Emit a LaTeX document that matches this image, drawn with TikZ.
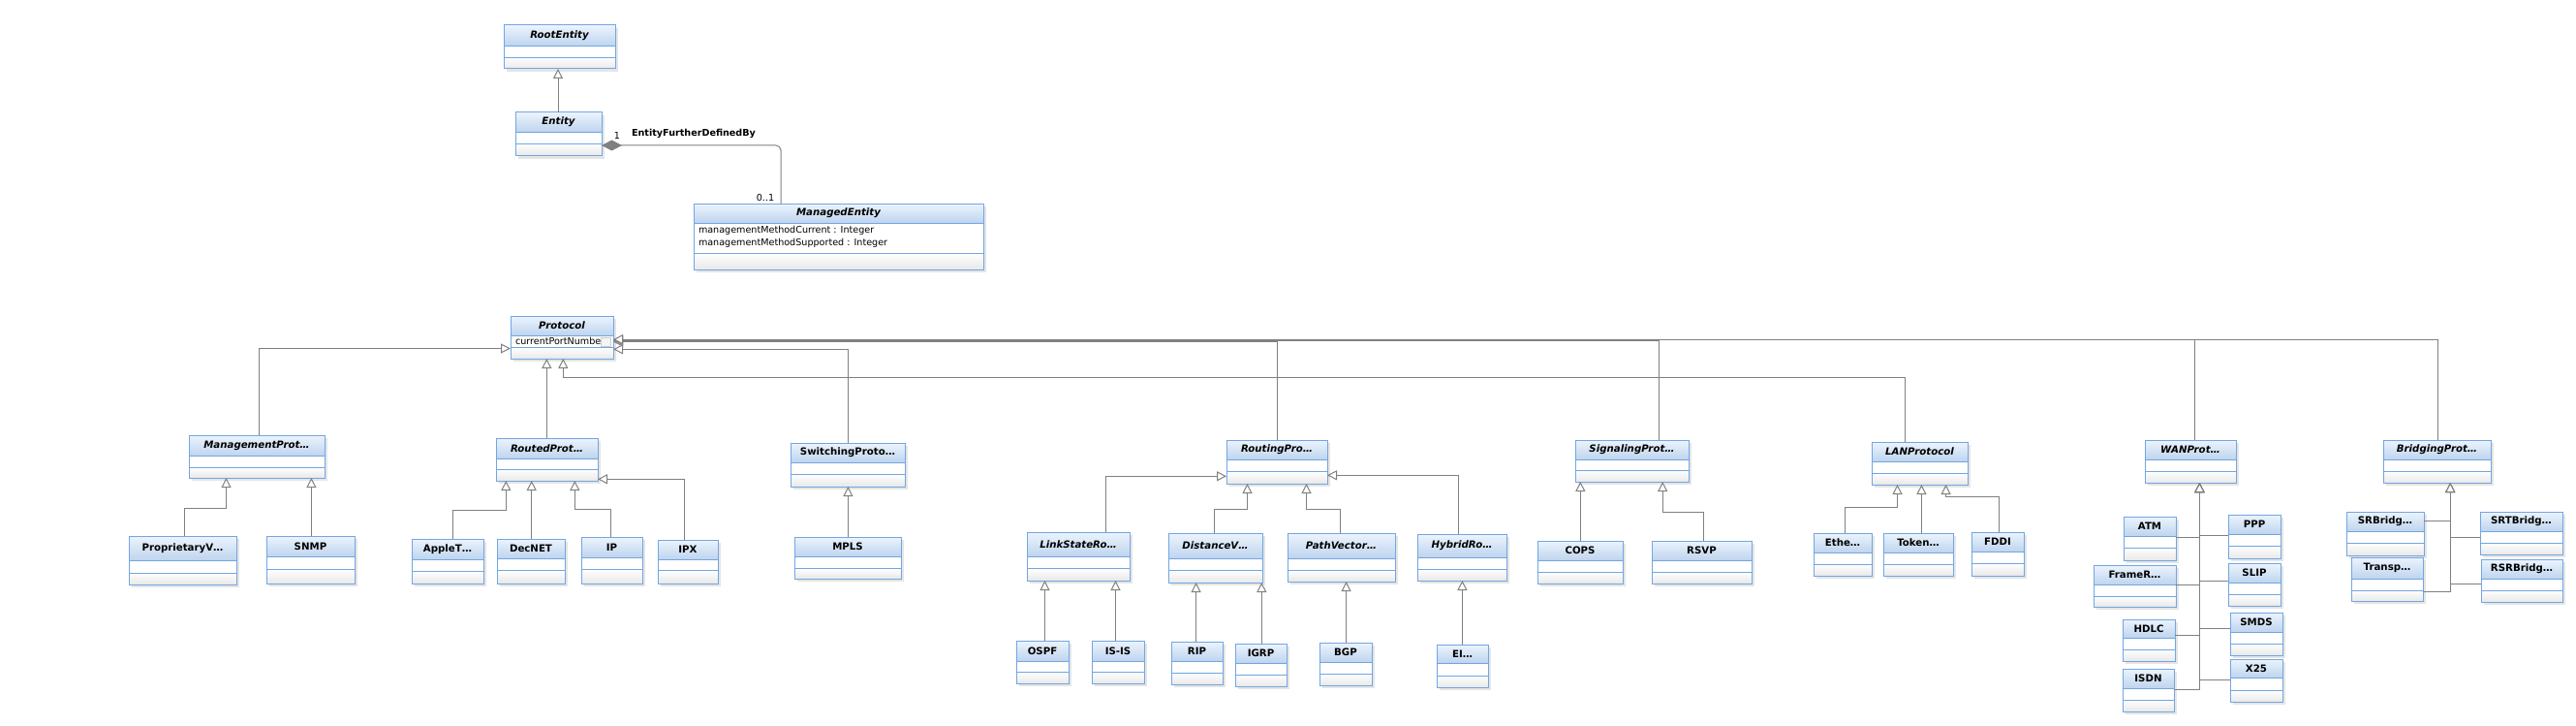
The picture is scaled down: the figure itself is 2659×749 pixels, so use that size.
\documentclass[tikz,border=0pt]{standalone}
\usepackage{fontspec}
\setmainfont{DejaVu Sans}
\usetikzlibrary{arrows.meta}

\definecolor{umlblue}{RGB}{114,166,226}
\definecolor{umlheadtop}{RGB}{236,244,253}
\definecolor{umlheadbot}{RGB}{190,212,238}
\definecolor{umlgray}{RGB}{128,128,128}

% name, x1, y1, x2, y2, header bottom, operations top, title
\newcommand{\umlclass}[8]{%
  \fill[umlshadow] (#2+3,#3+3) rectangle (#4+3,#5+3);
  \fill[white] (#2,#3) rectangle (#4,#5);
  \shade[umlhead] (#2,#3) rectangle (#4,#6);
  \shade[umlops] (#2,#7) rectangle (#4,#5);
  \draw[umlsep] (#2,#6) -- (#4,#6) (#2,#7) -- (#4,#7);
  \node[umlbox,minimum width={(#4-#2)*1pt},minimum height={(#5-#3)*1pt}] (#1) at ({(#2+#4)/2},{(#3+#5)/2}) {};
  \node[umltitle] (#1-title) at ({(#2+#4)/2},{(#3+#6)/2}) {#8};
}

\begin{document}
\begin{tikzpicture}[x=1pt,y=-1pt,
  every node/.style={inner sep=0pt,outer sep=0pt},
  umlbox/.style={draw=umlblue,line width=1pt,rectangle},
  umlsep/.style={umlblue,line width=0.9pt},
  umlhead/.style={top color=umlheadtop,bottom color=umlheadbot},
  umlops/.style={top color=white,bottom color=black!9},
  umlshadow/.style={black!10},
  umltitle/.style={font=\fontsize{10.2}{12}\selectfont\bfseries},
  umlattr/.style={font=\fontsize{9.6}{11}\selectfont,anchor=west},
  umllabel/.style={font=\fontsize{9.6}{11}\selectfont},
  gen/.style={umlgray,line width=1pt,-{Triangle[length=10pt,width=10pt,fill=white]}},
  comp/.style={umlgray,line width=1pt,rounded corners=5pt,-{Diamond[length=21pt,width=11pt,fill=umlgray]}}]
\fill[white] (0,0) rectangle (2659,749);
\useasboundingbox (0,0) rectangle (2659,749);

\umlclass{root}{520}{26}{635}{71}{47}{59}{\itshape RootEntity}
\umlclass{entity}{532}{116}{621}{161}{136}{148}{\itshape Entity}
\umlclass{managed}{716}{210}{1015}{278}{230}{261}{\itshape ManagedEntity}
\node[umlattr] (managed-a1) at (721,238) {managementMethodCurrent : Integer};
\node[umlattr] (managed-a2) at (721,251) {managementMethodSupported : Integer};

\umlclass{protocol}{527}{326}{633}{370}{346}{358}{\itshape Protocol}
\begin{scope}
\clip (528,347) rectangle (619,358);
\node[umlattr] (protocol-a) at (532,352) {currentPortNumber};
\end{scope}
\draw[black!20,fill=black!4] (620,348) rectangle (630,357);

\umlclass{mgmt}{195}{449}{335}{493}{470}{482}{\itshape ManagementProt…}
\umlclass{routed}{512}{452}{617}{496}{473}{484}{\itshape RoutedProt…}
\umlclass{switching}{816}{457}{934}{502}{477}{489}{SwitchingProto…}
\umlclass{routing}{1266}{454}{1370}{499}{474}{486}{\itshape RoutingPro…}
\umlclass{signaling}{1626}{454}{1743}{497}{474}{485}{\itshape SignalingProt…}
\umlclass{lan}{1932}{456}{2031}{500}{476}{488}{\itshape LANProtocol}
\umlclass{wan}{2214}{454}{2308}{498}{474}{486}{\itshape WANProt…}
\umlclass{bridging}{2460}{454}{2571}{498}{474}{486}{\itshape BridgingProt…}

\umlclass{propv}{133}{553}{244}{603}{578}{591}{ProprietaryV…}
\umlclass{snmp}{275}{553}{366}{602}{574}{587}{SNMP}
\umlclass{applet}{425}{556}{499}{602}{577}{589}{AppleT…}
\umlclass{decnet}{513}{556}{583}{602}{576}{588}{DecNET}
\umlclass{ip}{600}{554}{663}{602}{575}{587}{IP}
\umlclass{ipx}{679}{557}{741}{602}{577}{588}{IPX}
\umlclass{mpls}{820}{554}{930}{597}{574}{586}{MPLS}
\umlclass{linkstate}{1060}{549}{1166}{599}{574}{586}{\itshape LinkStateRo…}
\umlclass{distv}{1206}{550}{1303}{601}{576}{588}{\itshape DistanceV…}
\umlclass{pathv}{1329}{550}{1440}{600}{576}{588}{\itshape PathVector…}
\umlclass{hybrid}{1463}{551}{1555}{599}{575}{587}{\itshape HybridRo…}
\umlclass{cops}{1587}{558}{1675}{602}{578}{590}{COPS}
\umlclass{rsvp}{1705}{558}{1808}{602}{578}{590}{RSVP}
\umlclass{ethe}{1872}{550}{1932}{594}{570}{582}{Ethe…}
\umlclass{token}{1944}{550}{2016}{594}{570}{582}{Token…}
\umlclass{fddi}{2035}{549}{2089}{594}{569}{581}{FDDI}

\umlclass{ospf}{1049}{661}{1103}{705}{682}{693}{OSPF}
\umlclass{isis}{1127}{661}{1181}{705}{682}{693}{IS-IS}
\umlclass{rip}{1209}{662}{1262}{706}{682}{694}{RIP}
\umlclass{igrp}{1275}{664}{1328}{708}{684}{696}{IGRP}
\umlclass{bgp}{1362}{663}{1416}{707}{683}{695}{BGP}
\umlclass{eigrp}{1483}{665}{1536}{709}{684}{697}{EI…}

\umlclass{atm}{2192}{533}{2246}{578}{553}{565}{ATM}
\umlclass{ppp}{2300}{531}{2354}{576}{551}{563}{PPP}
\umlclass{framer}{2161}{583}{2246}{626}{603}{615}{FrameR…}
\umlclass{slip}{2300}{581}{2354}{625}{601}{613}{SLIP}
\umlclass{hdlc}{2191}{639}{2245}{682}{658}{670}{HDLC}
\umlclass{smds}{2302}{632}{2356}{676}{652}{664}{SMDS}
\umlclass{isdn}{2191}{690}{2244}{734}{710}{722}{ISDN}
\umlclass{x25}{2302}{680}{2356}{724}{699}{712}{X25}

\umlclass{srbridg}{2422}{528}{2502}{573}{548}{560}{SRBridg…}
\umlclass{srtbridg}{2560}{528}{2645}{572}{548}{560}{SRTBridg…}
\umlclass{transp}{2427}{575}{2501}{620}{597}{609}{Transp…}
\umlclass{rsrbridg}{2561}{577}{2645}{621}{597}{609}{RSRBridg…}

\draw[gen] (entity.north -| 576,0) -- (root.south -| 576,0);
\draw[comp] (managed.north -| 806,0) |- (entity.east |- 0,150);
\node[umllabel] (assoc-one) at (637,140) {1};
\node[umllabel,font=\fontsize{9.6}{11}\selectfont\bfseries] (assoc-name) at (716,138) {EntityFurtherDefinedBy};
\node[umllabel] (assoc-many) at (790,204) {0..1};

\draw[gen] (mgmt.north -| 267.4,0) |- (protocol.west |- 0,359.5);
\draw[gen] (routed.north -| 564.3,0) -- (protocol.south -| 564.3,0);
\draw[gen] (lan.north -| 1966,0) |- (581.3,389.3) -- (protocol.south -| 581.3,0);
\draw[gen] (switching.north -| 875,0) |- (protocol.east |- 0,360.3);
\draw[gen] (routing.north -| 1318.3,0) |- (protocol.east |- 0,352.6);
\draw[gen] (signaling.north -| 1712.4,0) |- (protocol.east |- 0,351.2);
\draw[gen] (wan.north -| 2265.4,0) |- (protocol.east |- 0,350.5);
\draw[gen] (bridging.north -| 2516.4,0) |- (protocol.east |- 0,350.2);

\draw[gen] (propv.north -| 190.6,0) |- (233.5,524.3) -- (mgmt.south -| 233.5,0);
\draw[gen] (snmp.north -| 321.4,0) -- (mgmt.south -| 321.4,0);
\draw[gen] (applet.north -| 467.4,0) |- (522.3,526.7) -- (routed.south -| 522.3,0);
\draw[gen] (decnet.north -| 548.7,0) -- (routed.south -| 548.7,0);
\draw[gen] (ip.north -| 630.4,0) |- (593.3,525.3) -- (routed.south -| 593.3,0);
\draw[gen] (ipx.north -| 706,0) |- (routed.east |- 0,494.3);
\draw[gen] (mpls.north -| 875.4,0) -- (switching.south -| 875.4,0);

\draw[gen] (linkstate.north -| 1141.5,0) |- (routing.west |- 0,491.3);
\draw[gen] (distv.north -| 1253.6,0) |- (1287.5,525.3) -- (routing.south -| 1287.5,0);
\draw[gen] (pathv.north -| 1383.3,0) |- (1348.5,525.3) -- (routing.south -| 1348.5,0);
\draw[gen] (hybrid.north -| 1505.3,0) |- (routing.east |- 0,490.3);
\draw[gen] (ospf.north -| 1078.5,0) -- (linkstate.south -| 1078.5,0);
\draw[gen] (isis.north -| 1151.5,0) -- (linkstate.south -| 1151.5,0);
\draw[gen] (rip.north -| 1234.6,0) -- (distv.south -| 1234.6,0);
\draw[gen] (igrp.north -| 1302.3,0) -- (distv.south -| 1302.3,0);
\draw[gen] (bgp.north -| 1389.6,0) -- (pathv.south -| 1389.6,0);
\draw[gen] (eigrp.north -| 1509.4,0) -- (hybrid.south -| 1509.4,0);

\draw[gen] (cops.north -| 1631.3,0) -- (signaling.south -| 1631.3,0);
\draw[gen] (rsvp.north -| 1758.7,0) |- (1716.2,528.3) -- (signaling.south -| 1716.2,0);
\draw[gen] (ethe.north -| 1904.5,0) |- (1958.5,523.3) -- (lan.south -| 1958.5,0);
\draw[gen] (token.north -| 1983.4,0) -- (lan.south -| 1983.4,0);
\draw[gen] (fddi.north -| 2063.3,0) |- (2008.6,512.3) -- (lan.south -| 2008.6,0);

\draw[gen] (atm.east |- 0,554.3) -| (wan.south -| 2270.4,0);
\draw[gen] (ppp.west |- 0,552.3) -| (wan.south -| 2270.4,0);
\draw[gen] (framer.east |- 0,603.3) -| (wan.south -| 2270.4,0);
\draw[gen] (slip.west |- 0,599.3) -| (wan.south -| 2270.4,0);
\draw[gen] (hdlc.east |- 0,655.3) -| (wan.south -| 2270.4,0);
\draw[gen] (smds.west |- 0,648.3) -| (wan.south -| 2270.4,0);
\draw[gen] (isdn.east |- 0,711.3) -| (wan.south -| 2270.4,0);
\draw[gen] (x25.west |- 0,701.3) -| (wan.south -| 2270.4,0);

\draw[gen] (srbridg.east |- 0,537.3) -| (bridging.south -| 2529.2,0);
\draw[gen] (srtbridg.west |- 0,554.3) -| (bridging.south -| 2529.2,0);
\draw[gen] (transp.east |- 0,610.3) -| (bridging.south -| 2529.2,0);
\draw[gen] (rsrbridg.west |- 0,602.3) -| (bridging.south -| 2529.2,0);
\end{tikzpicture}
\end{document}
